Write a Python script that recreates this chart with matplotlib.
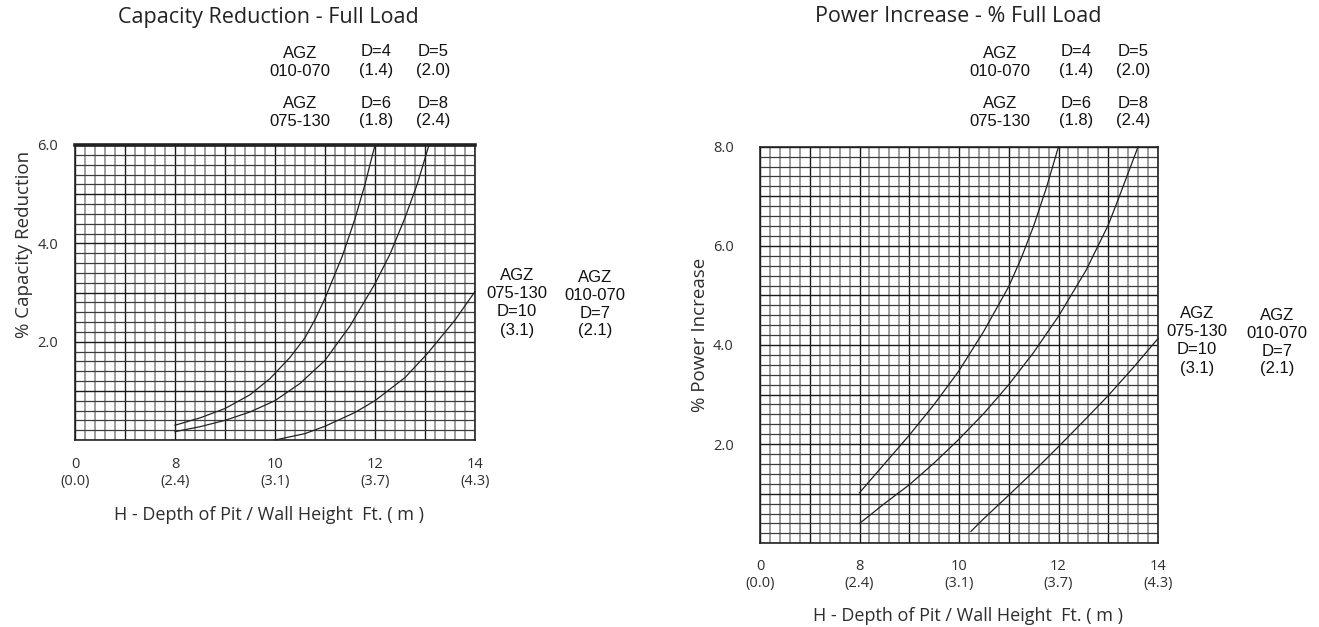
import numpy as np
import matplotlib
matplotlib.use("Agg")
import matplotlib.pyplot as plt
from matplotlib.ticker import FixedLocator

# ---- data ----
X_TICKS = [0, 8, 10, 12, 14]
X_TICK_M = ["(0.0)", "(2.4)", "(3.1)", "(3.7)", "(4.3)"]

# Capacity reduction (left)
CAP_H1 = [8.0, 8.5, 9.0, 9.5, 9.9, 10.3, 10.6, 10.8, 11.0, 11.35, 11.6, 11.8, 12.0]
CAP_V1 = [0.30, 0.45, 0.64, 0.92, 1.25, 1.68, 2.08, 2.45, 2.88, 3.75, 4.50, 5.20, 6.0]
CAP_H2 = [8.0, 8.5, 9.0, 9.5, 10.0, 10.5, 11.0, 11.5, 12.0, 12.3, 12.6, 12.85, 13.08]
CAP_V2 = [0.17, 0.27, 0.40, 0.57, 0.80, 1.15, 1.62, 2.32, 3.18, 3.78, 4.52, 5.22, 6.0]
CAP_H3 = [10.0, 10.6, 11.0, 11.6, 12.0, 12.6, 13.05, 13.6, 14.0]
CAP_V3 = [0.0, 0.13, 0.28, 0.56, 0.80, 1.27, 1.76, 2.44, 3.02]

# Power increase (right)
POW_H1 = [8.0, 8.5, 9.0, 9.5, 10.0, 10.5, 11.0, 11.25, 11.5, 11.75, 12.0]
POW_V1 = [1.02, 1.60, 2.18, 2.80, 3.48, 4.28, 5.18, 5.75, 6.40, 7.15, 8.0]
POW_H2 = [8.0, 8.5, 9.0, 9.5, 10.0, 10.5, 11.0, 11.5, 12.0, 12.55, 13.0, 13.22, 13.6]
POW_V2 = [0.40, 0.80, 1.18, 1.62, 2.10, 2.62, 3.20, 3.85, 4.58, 5.50, 6.42, 6.99, 8.0]
POW_H3 = [10.24, 10.5, 11.0, 11.5, 12.0, 12.5, 13.0, 13.5, 14.0]
POW_V3 = [0.24, 0.50, 0.97, 1.45, 1.95, 2.46, 2.98, 3.54, 4.13]

W, H = 1319, 627
THIN = "Open Sans"
ARIAL = "Liberation Sans"
GREY = "#2e2e2e"


def fwd(h):
    h = np.asarray(h, dtype=float)
    return np.where(h >= 8, h - 6, h / 4)


def inv(p):
    p = np.asarray(p, dtype=float)
    return np.where(p >= 2, p + 6, p * 4)


def setup_axes(ax, ymax, y_tick_pad, x_tick_pad, top_lw):
    ax.set_xscale("function", functions=(fwd, inv))
    ax.set_xlim(0, 14)
    ax.set_ylim(0, ymax)

    # dark lines every 50 px, light every 10 px
    major_x = inv(np.arange(0, 9))
    minor_x = inv(np.arange(0, 8.01, 0.2))
    ax.xaxis.set_major_locator(FixedLocator(major_x))
    ax.xaxis.set_minor_locator(FixedLocator(minor_x))
    labels = []
    for v in major_x:
        if round(float(v)) in X_TICKS:
            i = X_TICKS.index(round(float(v)))
            labels.append(f"{X_TICKS[i]}\n{X_TICK_M[i]}")
        else:
            labels.append("")
    ax.set_xticklabels(labels)

    ax.yaxis.set_major_locator(FixedLocator(np.arange(0, ymax + 0.01, 1)))
    ax.yaxis.set_minor_locator(FixedLocator(np.arange(0, ymax + 0.01, 0.2)))
    ax.set_yticklabels(["" if (k % 2 or k == 0) else f"{k:.1f}"
                        for k in range(0, int(ymax) + 1)])

    ax.tick_params(which="both", length=0)
    ax.tick_params(axis="y", pad=y_tick_pad, labelsize=10.5, labelcolor=GREY)
    ax.tick_params(axis="x", pad=x_tick_pad, labelsize=10.5, labelcolor=GREY)
    for lab in ax.get_xticklabels() + ax.get_yticklabels():
        lab.set_fontfamily(THIN)
        lab.set_multialignment("center")
        lab.set_linespacing(1.2)

    ax.set_axisbelow(True)
    ax.grid(which="minor", axis="x", color="#8c8c8c", lw=1.2)
    ax.grid(which="minor", axis="y", color="#3c3c3c", lw=0.9)
    ax.grid(which="major", axis="both", color="#1a1a1a", lw=1.0)
    for s in ax.spines.values():
        s.set_linewidth(1.2)
        s.set_color("#222222")
    ax.spines["top"].set_linewidth(top_lw)


def ftext(x, y, s, **kw):
    fig.text(x / W, 1 - y / H, s, ha="center", va="center",
             multialignment="center", **kw)


fig = plt.figure(figsize=(W / 100, H / 100), dpi=100)
ylab_kw = dict(fontsize=13.5, family=THIN, color=GREY)
xlab_kw = dict(fontsize=13, family=THIN, color=GREY)
xlabel = "H - Depth of Pit / Wall Height  Ft. ( m )"

# left panel: x 75..475, y 145..440
ax1 = fig.add_axes([75 / W, 1 - 440 / H, 400 / W, 295 / H])
setup_axes(ax1, 6, 12, 12, 2.6)
for hx, vy in [(CAP_H1, CAP_V1), (CAP_H2, CAP_V2), (CAP_H3, CAP_V3)]:
    ax1.plot(hx, vy, color="#222222", lw=0.9, clip_on=False)
ax1.set_ylabel("% Capacity Reduction", **ylab_kw)
ax1.yaxis.set_label_coords(-0.105, 0.664)
ax1.set_xlabel(xlabel, **xlab_kw)
ax1.xaxis.set_label_coords(0.485, -0.225)

# right panel: x 760..1158, y 147..543
ax2 = fig.add_axes([760 / W, 1 - 543.3 / H, 398 / W, 396.6 / H])
setup_axes(ax2, 8, 19, 11, 1.2)
for hx, vy in [(POW_H1, POW_V1), (POW_H2, POW_V2), (POW_H3, POW_V3)]:
    ax2.plot(hx, vy, color="#222222", lw=0.9, clip_on=False)
ax2.set_ylabel("% Power Increase", **ylab_kw)
ax2.yaxis.set_label_coords(-0.128, 0.525)
ax2.set_xlabel(xlabel, **xlab_kw)
ax2.xaxis.set_label_coords(0.523, -0.16)

# titles
title_kw = dict(fontsize=15.5, family=THIN, color="#222222")
ftext(268, 17, "Capacity Reduction - Full Load", **title_kw)
ftext(958, 17, "Power Increase - % Full Load", **title_kw)

# header annotations
ann = dict(fontsize=12, family=ARIAL, linespacing=1.25, color="#111111")
for agz_x, d1_x, d2_x in [(300, 376, 433), (1000, 1076, 1133)]:
    ftext(agz_x, 62, "AGZ\n010-070", **ann)
    ftext(d1_x, 61, "D=4\n(1.4)", **ann)
    ftext(d2_x, 61, "D=5\n(2.0)", **ann)
    ftext(agz_x, 113, "AGZ\n075-130", **ann)
    ftext(d1_x, 112, "D=6\n(1.8)", **ann)
    ftext(d2_x, 112, "D=8\n(2.4)", **ann)

ftext(517, 303, "AGZ\n075-130\nD=10\n(3.1)", **ann)
ftext(595, 304, "AGZ\n010-070\nD=7\n(2.1)", **ann)
ftext(1197, 341, "AGZ\n075-130\nD=10\n(3.1)", **ann)
ftext(1277, 342, "AGZ\n010-070\nD=7\n(2.1)", **ann)

fig.savefig("out.png", dpi=100, facecolor="white")
